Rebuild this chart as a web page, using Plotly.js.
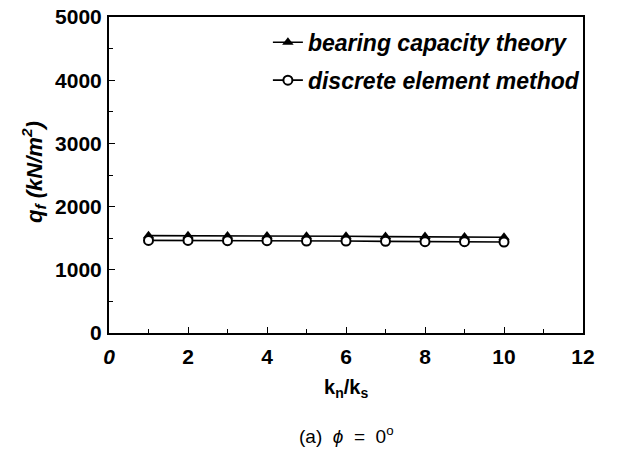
<!DOCTYPE html>
<html><head><meta charset="utf-8">
<script src="https://cdn.plot.ly/plotly-3.0.1.min.js"></script>
<style>html,body{margin:0;padding:0;background:#fff}#c{width:626px;height:455px}</style>
</head><body><div id="c"></div>
<script>
var ratio = [1,2,3,4,5,6,7,8,9,10];
var bearingCapacity = [1540,1540,1535,1535,1530,1530,1525,1525,1520,1515];
var discreteElement = [1465,1465,1460,1460,1455,1455,1450,1445,1445,1440];
var xTickVals = [0,2,4,6,8,10,12];
var xTickText = ['<i>0</i>','2','4','6','8','10','12'];
var yTickVals = [0,1000,2000,3000,4000,5000];

var F = 'Liberation Sans, Arial, sans-serif';
var traces = [
  {x: ratio, y: bearingCapacity, name: '<b><i>bearing capacity theory</i></b>', mode: 'lines+markers', legendgroup: 'a',
   line: {color: '#000', width: 1.6}, marker: {symbol: 'triangle-up', size: 10, color: '#000'}},
  {x: ratio, y: discreteElement, name: '<b><i>discrete element method</i></b>', mode: 'lines+markers', legendgroup: 'b',
   line: {color: '#000', width: 1.6}, marker: {symbol: 'circle', size: 9, color: '#fff', line: {color: '#000', width: 2}}}
];
var layout = {
  width: 626, height: 455,
  margin: {l: 109, r: 43, t: 17, b: 122},
  paper_bgcolor: '#fff', plot_bgcolor: '#fff',
  font: {family: F, color: '#000'},
  showlegend: true,
  legend: {x: 1.004, y: 0.988, xanchor: 'right', yanchor: 'top', bgcolor: 'rgba(0,0,0,0)',
           font: {family: F, size: 23, color: '#000'}, tracegroupgap: 5},
  xaxis: {range: [0, 12], tickvals: xTickVals, ticktext: xTickText, ticks: 'inside', ticklen: 6,
          tickcolor: '#000', showline: true, linecolor: '#000', linewidth: 2, mirror: true, ticklabelstandoff: 4,
          showgrid: false, zeroline: false, tickfont: {family: F, size: 21, color: '#000', weight: 'bold'},
          minor: {dtick: 1, ticks: 'inside', ticklen: 4, tickcolor: '#000'}},
  yaxis: {range: [0, 5000], tickvals: yTickVals, ticks: 'inside', ticklen: 6,
          tickcolor: '#000', showline: true, linecolor: '#000', linewidth: 2, mirror: true, ticklabelstandoff: 1,
          showgrid: false, zeroline: false, tickfont: {family: F, size: 21, color: '#000', weight: 'bold'},
          minor: {dtick: 500, ticks: 'inside', ticklen: 4, tickcolor: '#000'}},
  annotations: [
    {text: '<b><i>q<sub>f</sub> (kN/m<sup>2</sup>)</i></b>', xref: 'paper', yref: 'paper', x: -0.158, y: 0.51,
     xanchor: 'center', yanchor: 'middle', textangle: -90, showarrow: false, font: {family: F, size: 22, color: '#000'}},
    {text: '<b>k<sub>n</sub>/k<sub>s</sub></b>', xref: 'paper', yref: 'paper', x: 0.5, y: -0.175,
     xanchor: 'center', yanchor: 'middle', showarrow: false, font: {family: F, size: 20, color: '#000'}},
    {text: '(a)  <i>ϕ</i>  =  0<sup>o</sup>', xref: 'paper', yref: 'paper', x: 0.5, y: -0.322,
     xanchor: 'center', yanchor: 'middle', showarrow: false, font: {family: F, size: 19, color: '#000'}}
  ]
};
Plotly.newPlot('c', traces, layout, {displayModeBar: false, staticPlot: true});
</script></body></html>
